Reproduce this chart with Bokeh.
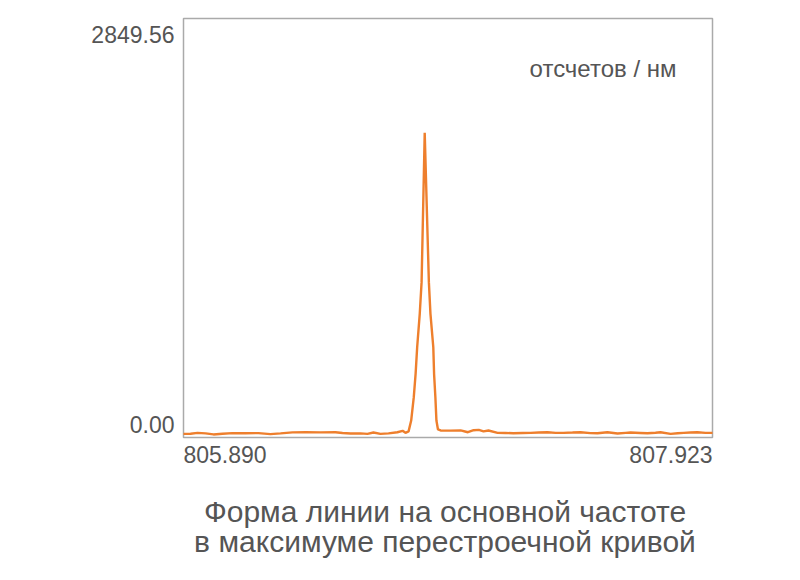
from bokeh.plotting import figure
from bokeh.models import Range1d
from bokeh.core.properties import value
from bokeh.embed import file_html
from bokeh.resources import INLINE

# ---- data ----
wavelength = [805.890, 805.917, 805.944, 805.975, 806.005, 806.040, 806.078, 806.128, 806.178, 806.224,
              806.263, 806.309, 806.359, 806.417, 806.474, 806.501, 806.532, 806.570, 806.597, 806.620,
              806.647, 806.678, 806.712, 806.732, 806.743, 806.755, 806.765, 806.775, 806.782, 806.788,
              806.798, 806.805, 806.817, 806.833, 806.839, 806.850, 806.853, 806.858, 806.862, 806.868,
              806.878, 806.916, 806.955, 806.983,
              807.005, 807.025, 807.043, 807.062, 807.097, 807.127, 807.158, 807.193, 807.224, 807.255,
              807.289, 807.320, 807.350, 807.385, 807.416, 807.454, 807.481, 807.519, 807.558, 807.589,
              807.608, 807.646, 807.673, 807.704, 807.723, 807.762, 807.789, 807.812, 807.838, 807.865,
              807.896, 807.923]
counts = [5, 6, 12, 8, 1, 6, 10, 9, 10, 3,
          8, 15, 17, 15, 16, 11, 7, 8, 5, 14,
          5, 8, 16, 26, 12, 22, 96, 256, 416, 598,
          829, 1044, 2067, 1044, 829, 598, 416, 256, 96, 35,
          28, 27, 29, 16,
          30, 32, 22, 28, 12, 11, 9, 11, 12, 14,
          16, 12, 12, 14, 16, 10, 9, 16, 7, 12,
          14, 11, 9, 13, 16, 5, 9, 12, 14, 16,
          12, 12]

x_min, x_max = 805.890, 807.923
y_min, y_max = -20.0, 2849.56
x_tick_values = [805.890, 807.923]
x_tick_labels = ["805.890", "807.923"]
y_tick_values = [0.0, 2849.56]
y_tick_labels = ["0.00", "2849.56"]
unit_label = "отсчетов / нм"
title_lines = ["Форма линии на основной частоте", "в максимуме перестроечной кривой"]

# ---- layout (pixels) ----
W, H = 784, 564
BOX_L, BOX_R, BOX_T, BOX_B = 183, 712, 18, 437

kx = (x_max - x_min) / (BOX_R - BOX_L)
ky = (y_max - y_min) / (BOX_B - BOX_T)
x_range = Range1d(x_min - BOX_L * kx, x_max + (W - BOX_R) * kx)
y_range = Range1d(y_min - (H - BOX_B) * ky, y_max + BOX_T * ky)

TEXT_COLOR = "#555555"
FONT = "Liberation Sans"

p = figure(width=W, height=H, output_backend="svg", toolbar_location=None,
           x_range=x_range, y_range=y_range,
           min_border=0, min_border_left=0, min_border_right=0, min_border_top=0, min_border_bottom=0)
p.xaxis.visible = False
p.yaxis.visible = False
p.xgrid.visible = False
p.ygrid.visible = False
p.outline_line_color = None
p.background_fill_color = "white"
p.border_fill_color = "white"

# plot box
p.quad(left=[x_min], right=[x_max], bottom=[y_min], top=[y_max],
       fill_color=None, line_color="#aaaaaa", line_width=1.5)

p.line(wavelength, counts, line_color="#EE7F2D", line_width=2.4)

def lab(text, x, y, align, xo, yo, size):
    p.text(x=[x], y=[y], text=[text], text_align=align, text_baseline="alphabetic",
           x_offset=xo, y_offset=yo, text_font=value(FONT), text_font_size=size,
           text_color=TEXT_COLOR)

# y tick labels
lab(y_tick_labels[1], x_min, y_tick_values[1], "right", -9, 16, "23px")
lab(y_tick_labels[0], x_min, y_tick_values[0], "right", -9, -10, "23px")
# x tick labels
lab(x_tick_labels[0], x_tick_values[0], y_min, "left", 0, 17, "23px")
lab(x_tick_labels[1], x_tick_values[1], y_min, "right", 0, 17, "23px")
# unit label
lab(unit_label, x_max, y_max, "right", -36, 50, "24px")
# title lines
xc = (x_min + x_max) / 2
lab(title_lines[0], xc, y_min, "center", -3, 74, "30px")
lab(title_lines[1], xc, y_min, "center", -3, 104, "30px")

open("out.html", "w").write(file_html(p, INLINE))
